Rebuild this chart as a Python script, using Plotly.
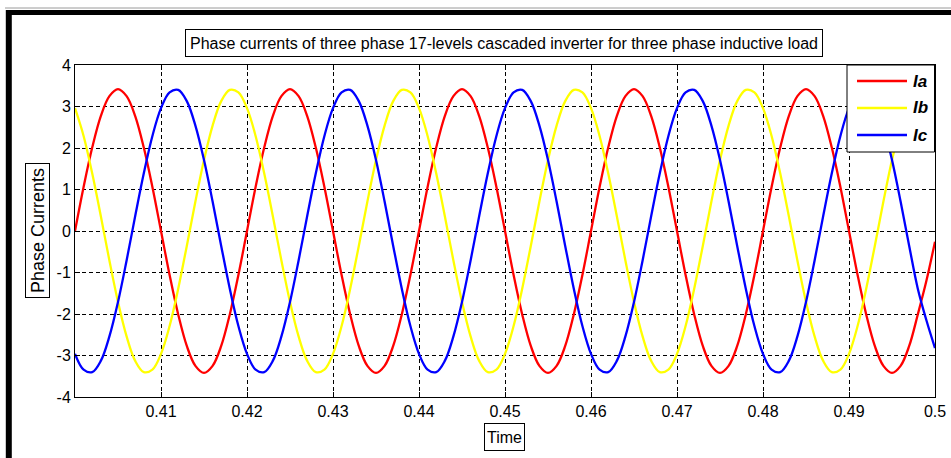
import plotly.graph_objects as go

t_start = 0.400
t_step = 0.001

ia = [
    0.00, 1.06, 2.01, 2.77, 3.25, 3.42, 3.25, 2.77, 2.01, 1.06,
    0.00, -1.06, -2.01, -2.77, -3.25, -3.42, -3.25, -2.77, -2.01, -1.06,
    0.00, 1.06, 2.01, 2.77, 3.25, 3.42, 3.25, 2.77, 2.01, 1.06,
    0.00, -1.06, -2.01, -2.77, -3.25, -3.42, -3.25, -2.77, -2.01, -1.06,
    0.00, 1.06, 2.01, 2.77, 3.25, 3.42, 3.25, 2.77, 2.01, 1.06,
    0.00, -1.06, -2.01, -2.77, -3.25, -3.42, -3.25, -2.77, -2.01, -1.06,
    0.00, 1.06, 2.01, 2.77, 3.25, 3.42, 3.25, 2.77, 2.01, 1.06,
    0.00, -1.06, -2.01, -2.77, -3.25, -3.42, -3.25, -2.77, -2.01, -1.06,
    0.00, 1.06, 2.01, 2.77, 3.25, 3.42, 3.25, 2.77, 2.01, 1.06,
    0.00, -1.06, -2.01, -2.77, -3.25, -3.42, -3.25, -2.77, -2.01, -1.20,
    -0.26,
]

ib = [
    2.96, 2.29, 1.39, 0.36, -0.71, -1.71, -2.54, -3.13, -3.40, -3.34,
    -2.96, -2.29, -1.39, -0.36, 0.71, 1.71, 2.54, 3.13, 3.40, 3.34,
    2.96, 2.29, 1.39, 0.36, -0.71, -1.71, -2.54, -3.13, -3.40, -3.34,
    -2.96, -2.29, -1.39, -0.36, 0.71, 1.71, 2.54, 3.13, 3.40, 3.34,
    2.96, 2.29, 1.39, 0.36, -0.71, -1.71, -2.54, -3.13, -3.40, -3.34,
    -2.96, -2.29, -1.39, -0.36, 0.71, 1.71, 2.54, 3.13, 3.40, 3.34,
    2.96, 2.29, 1.39, 0.36, -0.71, -1.71, -2.54, -3.13, -3.40, -3.34,
    -2.96, -2.29, -1.39, -0.36, 0.71, 1.71, 2.54, 3.13, 3.40, 3.34,
    2.96, 2.29, 1.39, 0.36, -0.71, -1.71, -2.54, -3.13, -3.40, -3.34,
    -2.96, -2.29, -1.39, -0.36, 0.71, 1.71, 2.54, 3.13, 3.40, 3.36,
    3.08,
]

ic = [
    -2.96, -3.34, -3.40, -3.13, -2.54, -1.71, -0.71, 0.36, 1.39, 2.29,
    2.96, 3.34, 3.40, 3.13, 2.54, 1.71, 0.71, -0.36, -1.39, -2.29,
    -2.96, -3.34, -3.40, -3.13, -2.54, -1.71, -0.71, 0.36, 1.39, 2.29,
    2.96, 3.34, 3.40, 3.13, 2.54, 1.71, 0.71, -0.36, -1.39, -2.29,
    -2.96, -3.34, -3.40, -3.13, -2.54, -1.71, -0.71, 0.36, 1.39, 2.29,
    2.96, 3.34, 3.40, 3.13, 2.54, 1.71, 0.71, -0.36, -1.39, -2.29,
    -2.96, -3.34, -3.40, -3.13, -2.54, -1.71, -0.71, 0.36, 1.39, 2.29,
    2.96, 3.34, 3.40, 3.13, 2.54, 1.71, 0.71, -0.36, -1.39, -2.29,
    -2.96, -3.34, -3.40, -3.13, -2.54, -1.71, -0.71, 0.36, 1.39, 2.29,
    2.96, 3.34, 3.40, 3.13, 2.54, 1.71, 0.71, -0.36, -1.39, -2.15,
    -2.82,
]

series_names = ["Ia", "Ib", "Ic"]
series_colors = ["#FF0000", "#FFFF00", "#0000FF"]

x_tick_vals = [0.41, 0.42, 0.43, 0.44, 0.45, 0.46, 0.47, 0.48, 0.49, 0.50]
x_tick_text = ["0.41", "0.42", "0.43", "0.44", "0.45", "0.46", "0.47", "0.48", "0.49", "0.5"]
y_tick_vals = [-4, -3, -2, -1, 0, 1, 2, 3, 4]
y_tick_text = ["-4", "-3", "-2", "-1", "0", "1", "2", "3", "4"]

title_text = "Phase currents of three phase 17-levels cascaded inverter for three phase inductive load"
x_title = "Time"
y_title = "Phase Currents"

time = [round(t_start + i * t_step, 4) for i in range(len(ia))]

# ---- figure geometry (pixels) ----
W, H = 951, 458
L, R, T, B = 75, 935, 65, 397


def px(x):
    return (x - L) / (R - L)


def py(y):
    return (B - y) / (B - T)


FONT = "Liberation Sans, Arial, sans-serif"

fig = go.Figure()
for name, col, vals in zip(series_names, series_colors, [ia, ib, ic]):
    fig.add_trace(go.Scatter(
        x=time, y=vals, mode="lines", name=name,
        line=dict(color=col, width=2.3, shape="spline", smoothing=1.0),
        showlegend=False, hoverinfo="skip",
    ))

axis_common = dict(
    showline=True, linecolor="black", linewidth=1, mirror="all",
    ticks="inside", ticklen=5, tickcolor="black", tickwidth=1,
    showgrid=True, gridcolor="black", gridwidth=1, griddash="4px,3px",
    zeroline=False, automargin=False, fixedrange=True,
    tickfont=dict(family=FONT, size=16, color="black"),
)

fig.update_xaxes(range=[0.4, 0.5], tickvals=x_tick_vals, ticktext=x_tick_text, **axis_common)
fig.update_yaxes(range=[-4, 4], tickvals=y_tick_vals, ticktext=y_tick_text, **axis_common)

shapes = []
# outer frame of the screenshot
shapes.append(dict(type="line", xref="paper", yref="paper", x0=px(5), x1=px(960), y0=py(8), y1=py(8),
                   line=dict(color="#9a9a9a", width=1)))
shapes.append(dict(type="line", xref="paper", yref="paper", x0=px(6), x1=px(960), y0=py(12.5), y1=py(12.5),
                   line=dict(color="black", width=5)))
shapes.append(dict(type="line", xref="paper", yref="paper", x0=px(8.8), x1=px(8.8), y0=py(10), y1=py(470),
                   line=dict(color="black", width=6)))
# legend box
shapes.append(dict(type="rect", xref="paper", yref="paper", x0=px(847), x1=px(934.5), y0=py(152), y1=py(65),
                   fillcolor="white", line=dict(color="black", width=1)))
leg_y = [81, 108, 135]
for name, col, yy in zip(series_names, series_colors, leg_y):
    shapes.append(dict(type="line", xref="paper", yref="paper", x0=px(857), x1=px(907), y0=py(yy), y1=py(yy),
                       line=dict(color=col, width=2.5)))

annotations = [
    dict(text=title_text, xref="paper", yref="paper", x=px(504), y=py(43), xanchor="center", yanchor="middle",
         showarrow=False, font=dict(family=FONT, size=16, color="black"), width=632, height=22,
         bordercolor="black", borderwidth=1, borderpad=2, bgcolor="white"),
    dict(text=x_title, xref="paper", yref="paper", x=px(504.5), y=py(437), xanchor="center", yanchor="middle",
         showarrow=False, font=dict(family=FONT, size=16, color="black"), width=35, height=22,
         bordercolor="black", borderwidth=1, borderpad=2, bgcolor="white"),
    dict(text=y_title, xref="paper", yref="paper", x=px(37.5), y=py(230.5), xanchor="center", yanchor="middle",
         showarrow=False, textangle=-90, font=dict(family=FONT, size=18, color="black"), width=129, height=19,
         bordercolor="black", borderwidth=1, borderpad=2, bgcolor="white"),
]
for name, yy in zip(series_names, leg_y):
    annotations.append(dict(text="<b><i>" + name + "</i></b>", xref="paper", yref="paper", x=px(911), y=py(yy),
                            xanchor="left", yanchor="middle", showarrow=False,
                            font=dict(family=FONT, size=17, color="black")))

fig.update_layout(
    width=W, height=H, autosize=False,
    margin=dict(l=L, r=W - R, t=T, b=H - B, pad=0, autoexpand=False),
    paper_bgcolor="white", plot_bgcolor="white",
    shapes=shapes, annotations=annotations,
    showlegend=False, hovermode=False,
)

fig.write_html(
    "out.html",
    config={"displayModeBar": False, "responsive": False},
    post_script="document.body.style.margin='0';document.body.style.overflow='hidden';",
)
